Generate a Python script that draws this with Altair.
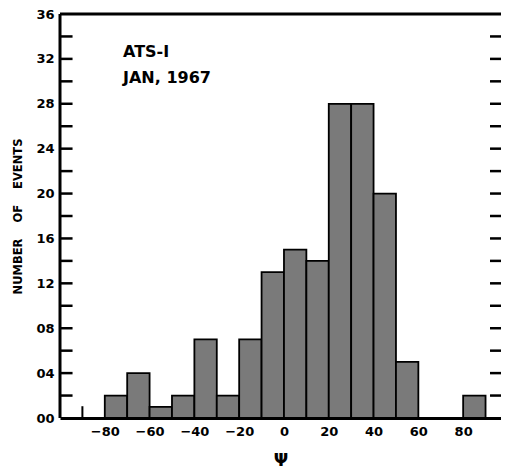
import altair as alt
import pandas as pd

# ---- data ----
bin_start = [-80, -70, -60, -50, -40, -30, -20, -10, 0, 10, 20, 30, 40, 50, 80]
bin_width = 10
counts = [2, 4, 1, 2, 7, 2, 7, 13, 15, 14, 28, 28, 20, 5, 2]
x_tick_values = [-80, -60, -40, -20, 0, 20, 40, 60, 80]
y_label_values = list(range(0, 37, 4))
left_tick_values = list(range(2, 35, 2))
right_tick_values = list(range(2, 35, 2))
annotation_lines = ["ATS-I", "JAN, 1967"]
x_title = "Ψ"
y_title = "NUMBER\u00a0\u00a0\u00a0\u00a0OF\u00a0\u00a0\u00a0\u00a0EVENTS"

X_MIN, X_MAX = -100, 96.9
Y_MIN, Y_MAX = 0, 36
FONT = "DejaVu Sans"

df = pd.DataFrame({
    "start": bin_start,
    "end": [s + bin_width for s in bin_start],
    "count": counts,
    "base": [0] * len(bin_start),
})

xscale = alt.Scale(domain=[X_MIN, X_MAX], nice=False, zero=False)
yscale = alt.Scale(domain=[Y_MIN, Y_MAX], nice=False, zero=False)

xaxis = alt.Axis(values=x_tick_values, ticks=False, domain=True,
                 domainColor="black", domainWidth=3, grid=False,
                 labelFont=FONT, labelFontWeight="bold", labelFontSize=13,
                 labelColor="black", labelPadding=7,
                 labelExpr="datum.value < 0 ? '\u2212' + abs(datum.value) : '' + datum.value",
                 title=x_title, titleFont=FONT, titleFontSize=17,
                 titleFontWeight="bold", titleColor="black", titlePadding=14)
yaxis = alt.Axis(values=y_label_values, ticks=False, domain=False, grid=False,
                 labelExpr="datum.value < 10 ? '0' + datum.value : '' + datum.value",
                 labelFont=FONT, labelFontWeight="bold", labelFontSize=13,
                 labelColor="black", labelPadding=6,
                 title=y_title, titleFont=FONT, titleFontSize=11.5,
                 titleFontWeight="bold", titleColor="black", titlePadding=12)

bars = alt.Chart(df).mark_rect(fill="#7a7a7a", stroke="black", strokeWidth=1.8).encode(
    x=alt.X("start:Q", scale=xscale, axis=xaxis),
    x2="end:Q",
    y=alt.Y("count:Q", scale=yscale, axis=yaxis),
    y2="base:Q",
)

frame_left = alt.Chart(pd.DataFrame({"start": [X_MIN]})).mark_rule(
    color="black", strokeWidth=3).encode(
    x=alt.X("start:Q", scale=xscale, axis=xaxis),
    y=alt.datum(Y_MIN), y2=alt.datum(Y_MAX))

frame_top = alt.Chart(pd.DataFrame({"count": [Y_MAX]})).mark_rule(
    color="black", strokeWidth=3).encode(
    y=alt.Y("count:Q", scale=yscale, axis=yaxis),
    x=alt.datum(X_MIN), x2=alt.datum(X_MAX))

left_ticks = alt.Chart(pd.DataFrame({"count": left_tick_values})).mark_rule(
    color="black", strokeWidth=2.5).encode(
    y=alt.Y("count:Q", scale=yscale, axis=yaxis),
    x=alt.datum(X_MIN), x2=alt.datum(X_MIN + 5.6))

right_ticks = alt.Chart(pd.DataFrame({"count": right_tick_values})).mark_rule(
    color="black", strokeWidth=2.5).encode(
    y=alt.Y("count:Q", scale=yscale, axis=yaxis),
    x=alt.datum(X_MAX - 4.9), x2=alt.datum(X_MAX))

small_tick = alt.Chart(pd.DataFrame({"start": [-90]})).mark_rule(
    color="black", strokeWidth=2).encode(
    x=alt.X("start:Q", scale=xscale, axis=xaxis),
    y=alt.datum(Y_MIN), y2=alt.datum(1.05))

text_layers = []
for line, ypix in zip(annotation_lines, [38, 64]):
    text_layers.append(
        alt.Chart(pd.DataFrame({"t": [line]})).mark_text(
            align="left", baseline="middle", font=FONT, fontWeight="bold",
            fontSize=16, color="black").encode(
            text="t:N", x=alt.value(63), y=alt.value(ypix))
    )

chart = alt.layer(bars, frame_left, frame_top, left_ticks, right_ticks, small_tick,
                  *text_layers).properties(
    width=441, height=404,
    padding={"left": 52, "top": 6, "right": 0, "bottom": 55},
    autosize=alt.AutoSizeParams(type="none"),
).configure_view(stroke=None)

chart.save("out.html", embed_options={"renderer": "svg", "actions": False})
